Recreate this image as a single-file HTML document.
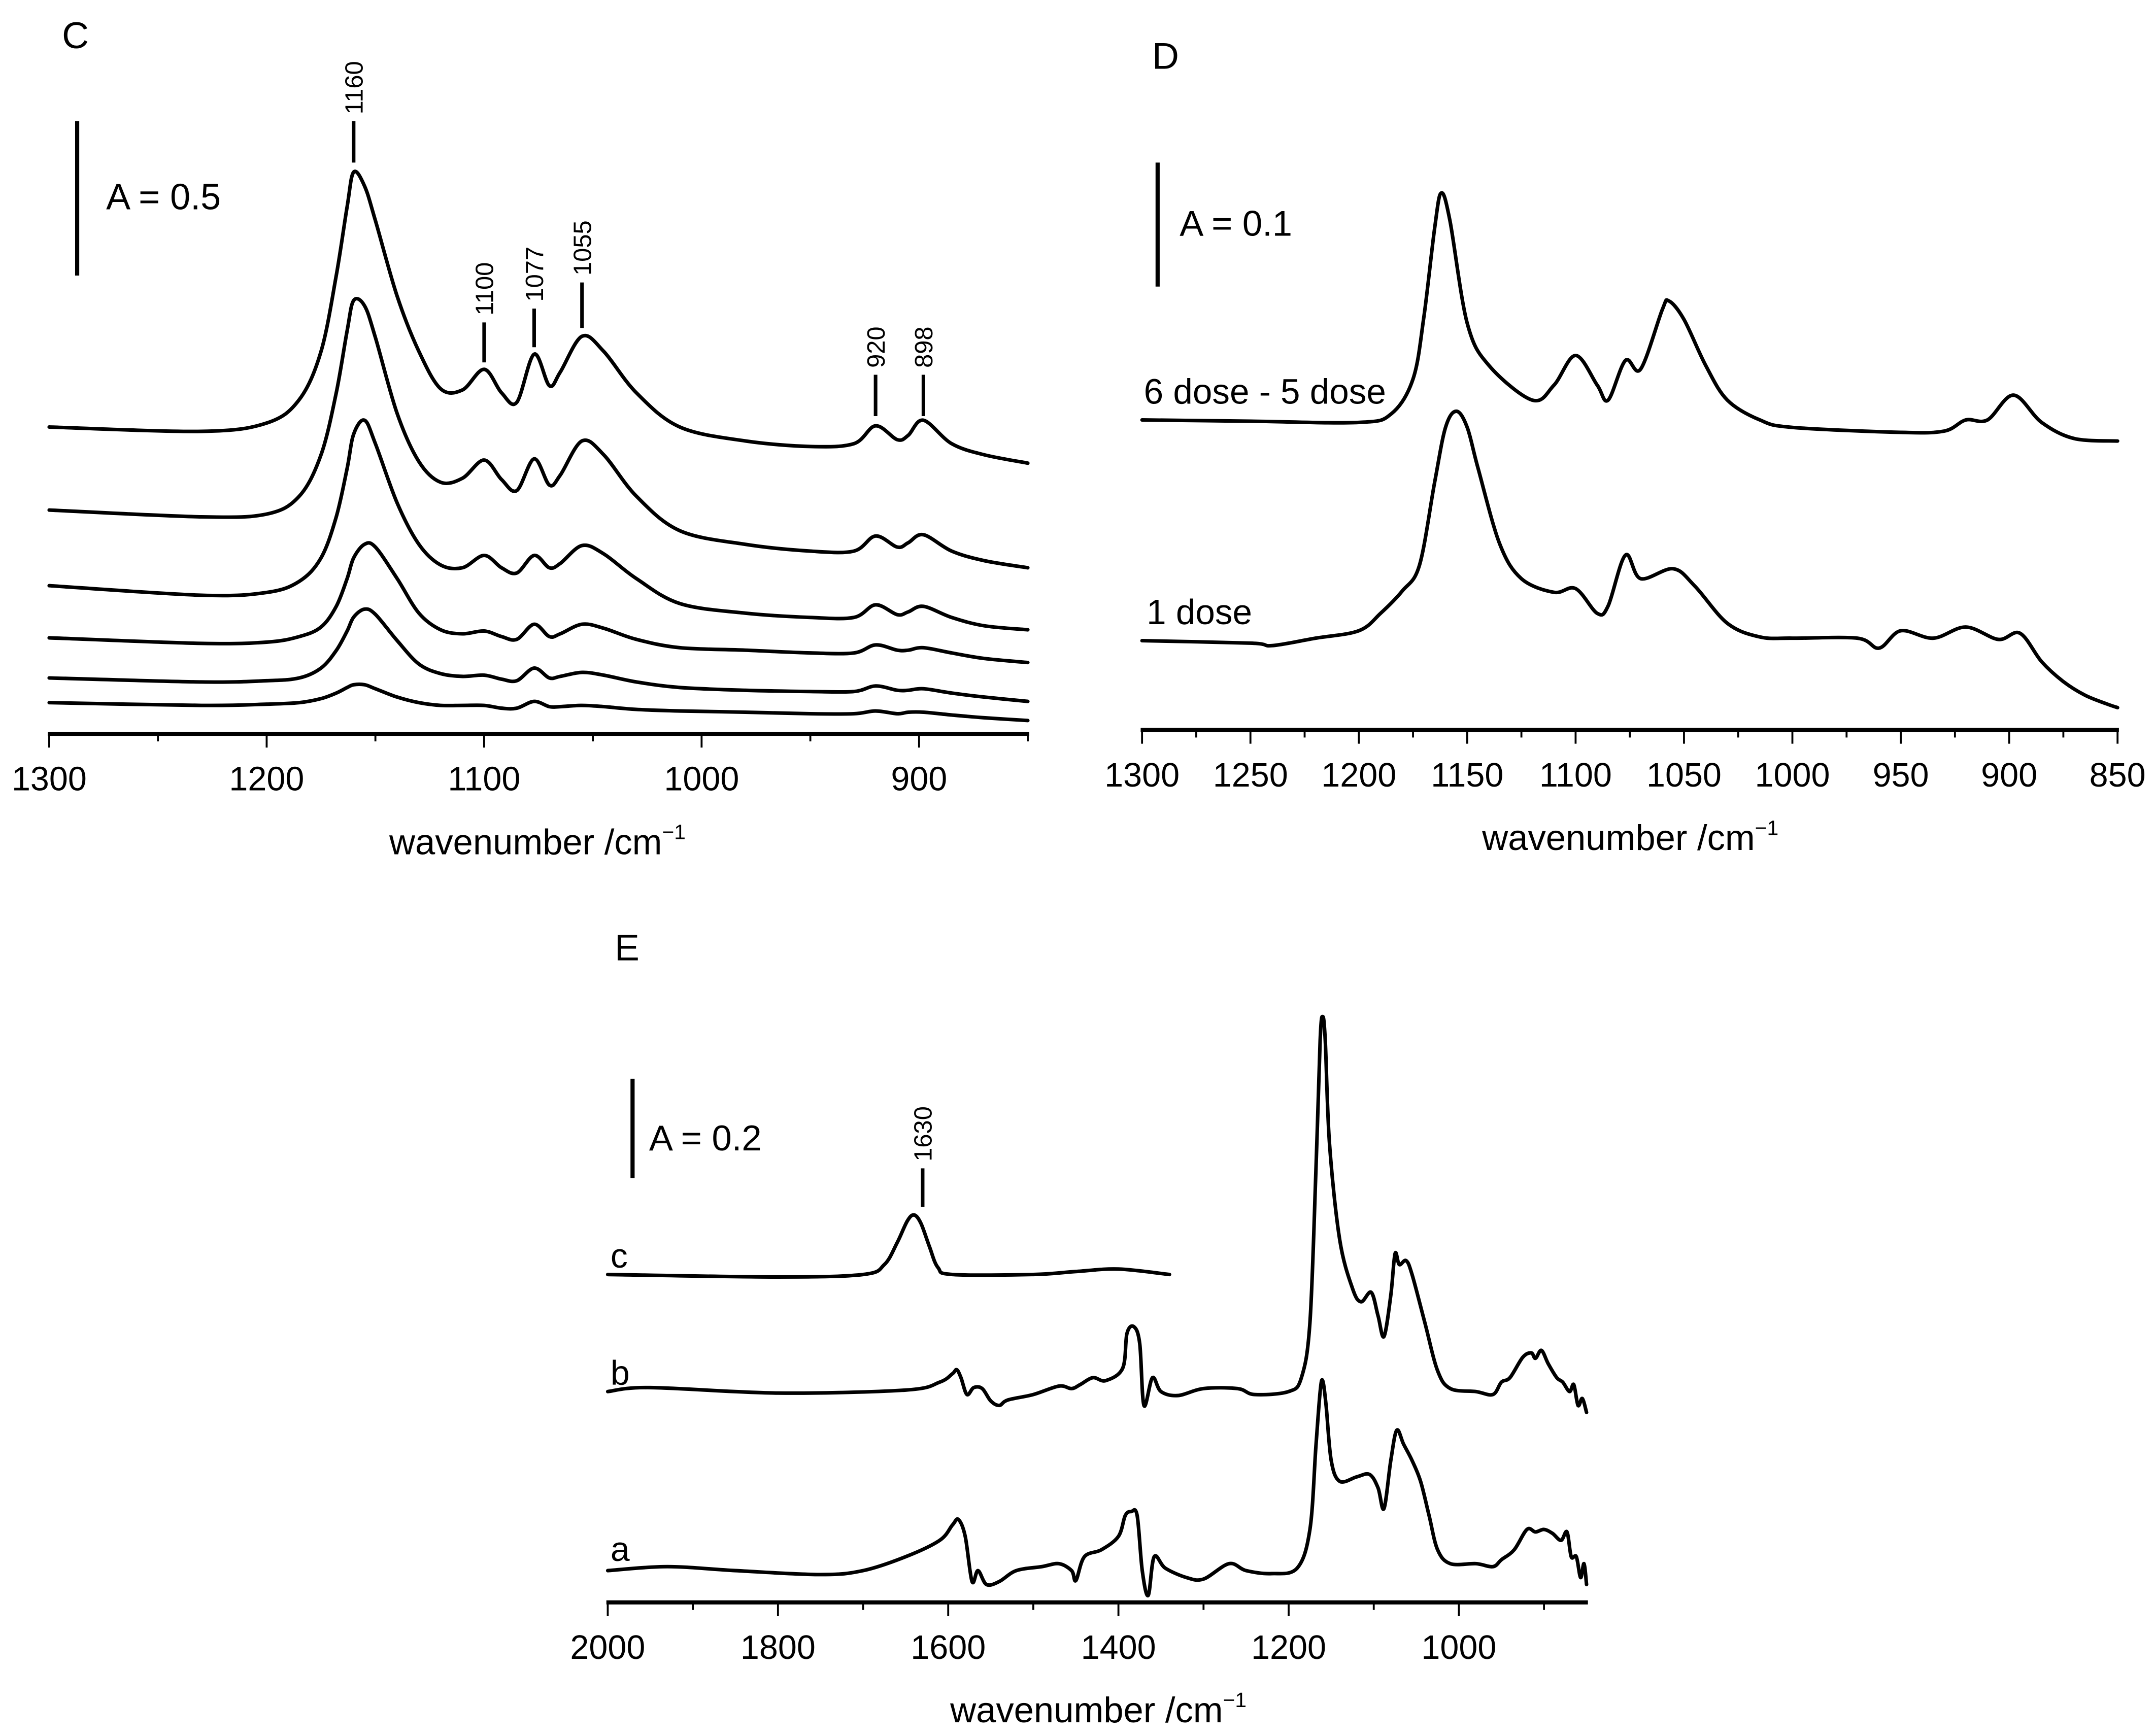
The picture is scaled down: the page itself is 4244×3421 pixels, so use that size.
<!DOCTYPE html>
<html><head><meta charset="utf-8"><style>
html,body{margin:0;padding:0;background:#fff}
svg{display:block}
text{font-family:"Liberation Sans",Arial,sans-serif;fill:#000}
</style></head>
<body>
<svg id="fig" width="4244" height="3421" viewBox="0 0 1563 1260" preserveAspectRatio="none" xmlns="http://www.w3.org/2000/svg">
<rect width="1563" height="1260" fill="#fff"/>
<g id="pc">
<text x="45" y="35" font-size="27">C</text>
<line x1="56" y1="88" x2="56" y2="200" stroke="#000" stroke-width="3"/>
<text x="77" y="152" font-size="26.5">A = 0.5</text>
</g>
<g id="pd">
<text x="836" y="50" font-size="27">D</text>
<line x1="840" y1="118" x2="840" y2="208" stroke="#000" stroke-width="3"/>
<text x="856" y="171" font-size="26">A = 0.1</text>
<text x="830" y="293" font-size="25.5">6 dose - 5 dose</text>
<text x="832" y="453" font-size="25.5">1 dose</text>
</g>
<g id="pe">
<text x="446" y="697" font-size="27">E</text>
<line x1="459" y1="783" x2="459" y2="855" stroke="#000" stroke-width="3"/>
<text x="471" y="835" font-size="26">A = 0.2</text>
<text x="443" y="920" font-size="25">c</text>
<text x="443" y="1005" font-size="25">b</text>
<text x="443" y="1133" font-size="25">a</text>
</g>
</svg>
<script>
// ---------- Panel C data ----------
const cWn = [1300,1230,1200,1185,1175,1168,1163,1160,1155,1150,1140,1130,1120,1110,1100,1092,1085,1077,1070,1065,1055,1045,1030,1010,980,950,930,920,910,905,898,885,870,850];
const cS6 = [0.994,0.980,1.007,1.083,1.239,1.485,1.708,1.820,1.775,1.663,1.418,1.239,1.118,1.114,1.181,1.105,1.074,1.230,1.128,1.172,1.288,1.239,1.105,0.994,0.949,0.931,0.940,0.998,0.953,0.967,1.016,0.940,0.904,0.877];
const cS5 = [0.725,0.703,0.712,0.770,0.904,1.105,1.306,1.404,1.387,1.284,1.038,0.882,0.815,0.828,0.887,0.824,0.788,0.891,0.806,0.838,0.949,0.904,0.770,0.658,0.614,0.592,0.592,0.641,0.605,0.619,0.645,0.592,0.561,0.538];
const cS4 = [0.480,0.449,0.458,0.494,0.570,0.703,0.860,0.971,1.016,0.940,0.748,0.614,0.547,0.538,0.578,0.538,0.521,0.578,0.538,0.552,0.610,0.583,0.503,0.422,0.391,0.377,0.377,0.418,0.386,0.395,0.413,0.377,0.350,0.337];
const cS3 = [0.311,0.293,0.297,0.315,0.346,0.413,0.503,0.570,0.614,0.605,0.503,0.391,0.337,0.324,0.333,0.315,0.306,0.355,0.315,0.324,0.355,0.342,0.306,0.279,0.271,0.262,0.262,0.288,0.271,0.271,0.279,0.262,0.244,0.231];
const cS2 = [0.181,0.168,0.172,0.181,0.213,0.270,0.333,0.378,0.404,0.387,0.302,0.226,0.195,0.186,0.190,0.177,0.172,0.213,0.181,0.186,0.199,0.190,0.168,0.150,0.141,0.137,0.137,0.155,0.141,0.141,0.146,0.132,0.119,0.105];
const cS1 = [0.101,0.092,0.096,0.101,0.114,0.132,0.150,0.159,0.159,0.146,0.119,0.101,0.092,0.092,0.092,0.083,0.083,0.105,0.088,0.088,0.092,0.088,0.079,0.074,0.070,0.065,0.065,0.074,0.065,0.070,0.070,0.061,0.052,0.043];
const cTicks = [1300,1200,1100,1000,900];
const cMinor = [1250,1150,1050,950,850];
const cPeaks = [1160,1100,1077,1055,920,898];

// ---------- Panel D data ----------
const dWnTop = [1300,1250,1200,1185,1175,1170,1165,1162,1158,1150,1140,1120,1110,1100,1090,1085,1077,1070,1060,1057,1050,1040,1030,1015,1000,950,930,920,910,898,885,870,850];
const dTop = [0.250,0.249,0.248,0.255,0.283,0.333,0.405,0.433,0.411,0.328,0.294,0.266,0.278,0.302,0.278,0.266,0.298,0.291,0.339,0.346,0.331,0.294,0.266,0.250,0.244,0.240,0.241,0.250,0.250,0.270,0.248,0.235,0.233];
const dWnBot = [1300,1250,1240,1220,1200,1190,1180,1172,1165,1160,1155,1150,1145,1135,1125,1110,1100,1090,1085,1077,1070,1055,1045,1030,1015,1000,970,960,950,935,920,905,895,885,875,865,855,850];
const dBot = [0.072,0.070,0.068,0.074,0.080,0.094,0.112,0.133,0.200,0.244,0.257,0.244,0.211,0.150,0.122,0.111,0.114,0.094,0.100,0.141,0.122,0.130,0.116,0.086,0.075,0.074,0.074,0.066,0.080,0.074,0.083,0.073,0.078,0.055,0.039,0.028,0.021,0.018];
const dTicks = [1300,1250,1200,1150,1100,1050,1000,950,900,850];
const dMinor = [1275,1225,1175,1125,1075,1025,975,925,875];

// ---------- Panel E data ----------
const eWnC = [2000,1800,1700,1675,1660,1648,1640,1632,1622,1612,1595,1500,1450,1400,1340];
const eC = [0.661,0.656,0.661,0.681,0.725,0.769,0.781,0.764,0.717,0.675,0.661,0.661,0.667,0.672,0.661];
const eWnB = [2000,1950,1800,1650,1610,1595,1590,1585,1578,1570,1560,1550,1540,1530,1500,1470,1455,1445,1430,1415,1395,1390,1382,1375,1370,1360,1350,1330,1300,1260,1240,1200,1185,1175,1168,1163,1160,1157,1152,1140,1125,1115,1103,1095,1088,1080,1075,1070,1062,1055,1040,1025,1010,980,960,950,940,925,915,910,903,895,885,878,870,865,860,855,850];
const eB = [0.425,0.433,0.422,0.428,0.444,0.461,0.469,0.453,0.419,0.433,0.431,0.406,0.397,0.408,0.419,0.436,0.431,0.439,0.453,0.447,0.472,0.542,0.556,0.522,0.397,0.453,0.425,0.417,0.431,0.431,0.419,0.425,0.453,0.564,0.869,1.133,1.181,1.133,0.925,0.731,0.633,0.606,0.625,0.578,0.536,0.619,0.703,0.681,0.689,0.661,0.564,0.467,0.431,0.425,0.419,0.444,0.453,0.494,0.503,0.492,0.508,0.481,0.453,0.444,0.425,0.439,0.397,0.411,0.383];
const eWnA = [2000,1930,1850,1750,1700,1650,1610,1595,1588,1580,1572,1565,1555,1540,1520,1490,1470,1455,1450,1440,1420,1400,1392,1385,1378,1372,1365,1358,1345,1320,1300,1270,1250,1220,1190,1175,1168,1163,1160,1156,1150,1140,1120,1105,1095,1088,1080,1073,1065,1055,1045,1035,1025,1010,980,960,950,935,920,910,900,890,880,873,868,862,857,853,850];
const eA = [0.064,0.072,0.064,0.056,0.064,0.092,0.125,0.156,0.167,0.133,0.042,0.064,0.036,0.042,0.064,0.072,0.078,0.064,0.044,0.092,0.106,0.133,0.175,0.183,0.175,0.064,0.014,0.092,0.069,0.050,0.047,0.078,0.064,0.058,0.069,0.147,0.314,0.425,0.447,0.397,0.286,0.244,0.253,0.258,0.231,0.189,0.286,0.347,0.319,0.286,0.244,0.175,0.106,0.078,0.078,0.072,0.086,0.106,0.147,0.142,0.147,0.139,0.125,0.142,0.092,0.092,0.050,0.078,0.036];
const eTicks = [2000,1800,1600,1400,1200,1000];
const eMinor = [1900,1700,1500,1300,1100,900];
const ePeaks = [1630];

const NS = 'http://www.w3.org/2000/svg';
function mk(tag, parent, attrs) {
  const el = document.createElementNS(NS, tag);
  for (const k in attrs) el.setAttribute(k, attrs[k]);
  parent.appendChild(el);
  return el;
}
function smoothPath(pts) {
  let d = 'M' + pts[0][0].toFixed(2) + ',' + pts[0][1].toFixed(2);
  for (let i = 0; i < pts.length - 1; i++) {
    const p0 = pts[Math.max(0, i - 1)], p1 = pts[i], p2 = pts[i + 1], p3 = pts[Math.min(pts.length - 1, i + 2)];
    const t = 6;
    const c1x = p1[0] + (p2[0] - p0[0]) / t, c1y = p1[1] + (p2[1] - p0[1]) / t;
    const c2x = p2[0] - (p3[0] - p1[0]) / t, c2y = p2[1] - (p3[1] - p1[1]) / t;
    d += ' C' + c1x.toFixed(2) + ',' + c1y.toFixed(2) + ' ' + c2x.toFixed(2) + ',' + c2y.toFixed(2) + ' ' + p2[0].toFixed(2) + ',' + p2[1].toFixed(2);
  }
  return d;
}
function makeAxis(g, cfg) {
  const xs = w => cfg.x0 + (cfg.wn0 - w) * cfg.k;
  const line = mk('line', g, {x1: xs(cfg.wn0) - 1, y1: cfg.axisY, x2: xs(cfg.wn1) + 1, y2: cfg.axisY, stroke: '#000', 'stroke-width': 3});
  
  
  cfg.ticks.forEach(w => {
    const t = mk('line', g, {x1: xs(w), y1: cfg.axisY, x2: xs(w), y2: cfg.axisY + 10, stroke: '#000', 'stroke-width': 1.4});
    
    
    const lb = mk('text', g, {x: xs(w), y: cfg.axisY + 41, 'font-size': 24.5, 'text-anchor': 'middle'});
    lb.textContent = String(w);
    
    
  });
  cfg.minor.forEach(w => {
    const t = mk('line', g, {x1: xs(w), y1: cfg.axisY, x2: xs(w), y2: cfg.axisY + 5.5, stroke: '#000', 'stroke-width': 1.4});
    
    
  });
  const title = mk('text', g, {x: cfg.titleX, y: cfg.titleY, 'font-size': 26, 'text-anchor': 'middle'});
  
  
  title.appendChild(document.createTextNode('wavenumber /cm'));
  const sup = mk('tspan', title, {dy: -11, 'font-size': 15});
  sup.textContent = '\u22121';
  return xs;
}
function drawSeries(g, xs, cfg, wn, vals, name) {
  const pts = wn.map((w, i) => [xs(w), cfg.axisY - vals[i] * cfg.pxPerA]);
  const p = mk('path', g, {d: smoothPath(pts), fill: 'none', stroke: '#000', 'stroke-width': 2.6, 'stroke-linejoin': 'round', 'stroke-linecap': 'round'});
  
  
  return pts;
}
function peakMarker(g, xs, cfg, w, y1, y2, name) {
  const x = xs(w);
  const l = mk('line', g, {x1: x, y1: y1, x2: x, y2: y2, stroke: '#000', 'stroke-width': 2.6});
  
  
  const t = mk('text', g, {x: 0, y: 0, 'font-size': 18, transform: 'translate(' + (x + 6.5) + ',' + (y1 - 5) + ') rotate(-90)'});
  t.textContent = String(w);
  
  
}

// Panel C
const gC = document.getElementById('pc');
const cfgC = {id: 'panel-c', x0: 35.7, wn0: 1300, wn1: 850, k: 1.578, axisY: 532.6, pxPerA: 224, ticks: cTicks, minor: cMinor, titleX: 390, titleY: 620};
const xC = makeAxis(gC, cfgC);
drawSeries(gC, xC, cfgC, cWn, cS1, 'panel-c-spectrum-1');
drawSeries(gC, xC, cfgC, cWn, cS2, 'panel-c-spectrum-2');
drawSeries(gC, xC, cfgC, cWn, cS3, 'panel-c-spectrum-3');
drawSeries(gC, xC, cfgC, cWn, cS4, 'panel-c-spectrum-4');
drawSeries(gC, xC, cfgC, cWn, cS5, 'panel-c-spectrum-5');
drawSeries(gC, xC, cfgC, cWn, cS6, 'panel-c-spectrum-6');
const cMarkY = {1160: [88, 118], 1100: [234, 263], 1077: [224, 252], 1055: [205, 238], 920: [272, 302], 898: [272, 302]};
cPeaks.forEach(w => peakMarker(gC, xC, cfgC, w, cMarkY[w][0], cMarkY[w][1], 'peak-' + w));

// Panel D
const gD = document.getElementById('pd');
const cfgD = {id: 'panel-d', x0: 828.7, wn0: 1300, wn1: 850, k: 1.573, axisY: 529.8, pxPerA: 900, ticks: dTicks, minor: dMinor, titleX: 1183, titleY: 617};
const xD = makeAxis(gD, cfgD);
drawSeries(gD, xD, cfgD, dWnTop, dTop, 'panel-d-6dose-minus-5dose');
drawSeries(gD, xD, cfgD, dWnBot, dBot, 'panel-d-1dose');

// Panel E
const gE = document.getElementById('pe');
const cfgE = {id: 'panel-e', x0: 441, wn0: 2000, wn1: 850, k: 0.6176, axisY: 1163, pxPerA: 360, ticks: eTicks, minor: eMinor, titleX: 797, titleY: 1250};
const xE = makeAxis(gE, cfgE);
drawSeries(gE, xE, cfgE, eWnC, eC, 'panel-e-spectrum-c');
drawSeries(gE, xE, cfgE, eWnB, eB, 'panel-e-spectrum-b');
drawSeries(gE, xE, cfgE, eWnA, eA, 'panel-e-spectrum-a');
ePeaks.forEach(w => peakMarker(gE, xE, cfgE, w, 848, 876, 'peak-' + w));
</script>
</body></html>
